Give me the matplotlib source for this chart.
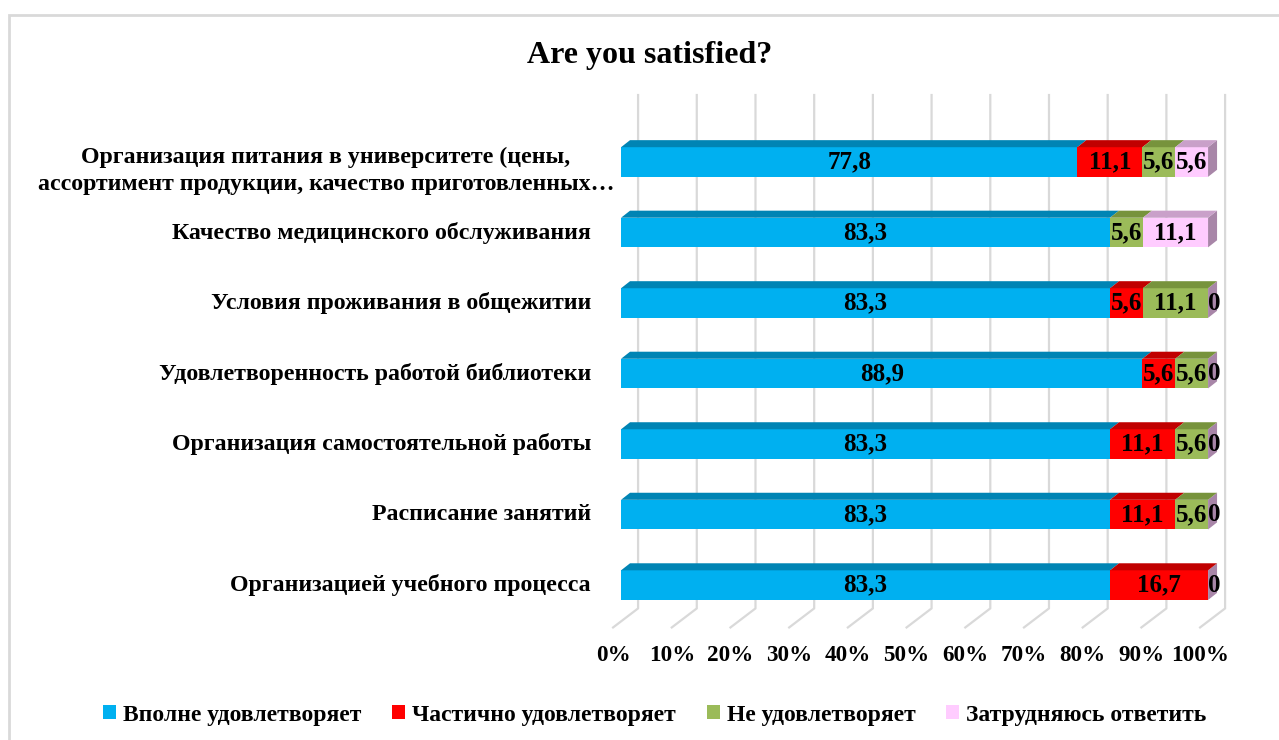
import matplotlib
matplotlib.use('Agg')
import matplotlib.pyplot as plt
from matplotlib.patches import Polygon, Patch, Rectangle

# ---- data (rows listed top to bottom, as in the chart) ----
categories = [
    'Организация питания в университете (цены,\nассортимент продукции, качество приготовленных…',
    'Качество медицинского обслуживания',
    'Условия проживания в общежитии',
    'Удовлетворенность работой библиотеки',
    'Организация самостоятельной работы',
    'Расписание занятий',
    'Организацией учебного процесса',
]
series_names = ['Вполне удовлетворяет', 'Частично удовлетворяет',
                'Не удовлетворяет', 'Затрудняюсь ответить']
fully = [77.8, 83.3, 83.3, 88.9, 83.3, 83.3, 83.3]
partly = [11.1, None, 5.6, 5.6, 11.1, 11.1, 16.7]
not_satisfied = [5.6, 5.6, 11.1, 5.6, 5.6, 5.6, None]
hard_to_say = [5.6, 11.1, 0, 0, 0, 0, 0]
x_ticks = [0, 10, 20, 30, 40, 50, 60, 70, 80, 90, 100]
x_tick_labels = [f'{t}%' for t in x_ticks]
title = 'Are you satisfied?'

# ---- style ----
FONT = 'Liberation Serif'
front_colors = ['#00B0F0', '#FF0000', '#9BBB59', '#FFCCFF']
top_colors = ['#0084B4', '#C00000', '#77933C', '#C9A0C9']
side_color = '#A886A8'
grid_color = '#D9D9D9'

BAR_H = 0.42            # front face height (category units)
DX, DY = 1.53, 0.10     # bar depth offset
WALL_DX, WALL_Y = 2.9, -0.33    # back wall (gridlines)
FLOOR_DX, FLOOR_Y = -1.36, -0.60  # front edge of the floor
GRID_TOP = 6.95
LABEL_X = -5.1          # right edge of the category labels
WRAP_X = -1.2           # wrapped label block overhangs a bit (as in Excel)


def fmt(v):
    return '0' if v == 0 else f'{v:.1f}'.replace('.', ',')


def main():
    fig = plt.figure(figsize=(12.79, 7.40), dpi=100)
    # light chart-area border
    fig.patches.append(Rectangle((9 / 1279, -0.1), 1.2, 1 - 15 / 740 + 0.1,
                                 transform=fig.transFigure, fill=False,
                                 edgecolor='#D9D9D9', lw=2.0))

    ax = fig.add_axes([0.4764, 0.1378, 0.4865, 0.7338])
    ax.set_xlim(-2, 104)
    ax.set_ylim(-0.75, 6.95)
    ax.axis('off')

    n = len(categories)
    series = [fully, partly, not_satisfied, hard_to_say]

    # gridlines on back wall + floor
    for t, lab in zip(x_ticks, x_tick_labels):
        ax.plot([t + WALL_DX, t + WALL_DX, t + FLOOR_DX],
                [GRID_TOP, WALL_Y, FLOOR_Y], color=grid_color, lw=1.6,
                zorder=0, clip_on=False)
        ax.text(t + FLOOR_DX, -1.0, lab, ha='center', va='center',
                fontsize=16.7, fontweight='bold', family=FONT)

    for r, cat in enumerate(categories):
        y = n - 1 - r
        vals = [s[r] for s in series]
        total = sum(v for v in vals if v is not None)
        left = 0.0
        for k, v in enumerate(vals):
            if v is None:
                continue
            w = v / total * 100
            ax.barh(y, w, left=left, height=BAR_H, color=front_colors[k],
                    edgecolor='none', zorder=2)
            top = y + BAR_H / 2
            ax.add_patch(Polygon([(left, top), (left + w, top),
                                  (left + w + DX, top + DY), (left + DX, top + DY)],
                                 closed=True, color=top_colors[k], lw=0, zorder=2))
            lx = left + w / 2 if v > 0 else 100 + 1.0
            ax.text(lx, y, fmt(v), ha='center', va='center', fontsize=18,
                    fontweight='bold', family=FONT, zorder=4)
            left += w
        # right side face of the stack
        ax.add_patch(Polygon([(100, y - BAR_H / 2), (100, y + BAR_H / 2),
                              (100 + DX, y + BAR_H / 2 + DY), (100 + DX, y - BAR_H / 2 + DY)],
                             closed=True, color=side_color, lw=0, zorder=1))
        wrapped = '\n' in cat
        ax.text(WRAP_X if wrapped else LABEL_X, y - (0.13 if wrapped else 0), cat,
                ha='right', va='center', multialignment='center',
                fontsize=17.2, fontweight='bold', family=FONT, linespacing=1.36)

    fig.text(650 / 1279, 1 - 56 / 740, title, ha='center', va='center',
             fontsize=23, fontweight='bold', family=FONT)

    handles = [Patch(facecolor=c, edgecolor='none') for c in front_colors]
    fig.legend(handles, series_names, loc='center', ncol=4,
               bbox_to_anchor=(655 / 1279, 1 - 715 / 740), frameon=False,
               prop={'family': FONT, 'weight': 'bold', 'size': 17},
               handlelength=0.55, handleheight=0.55, handletextpad=0.3,
               columnspacing=1.3)

    fig.savefig('out.png', dpi=100)
    plt.close(fig)


if __name__ == '__main__':
    main()
